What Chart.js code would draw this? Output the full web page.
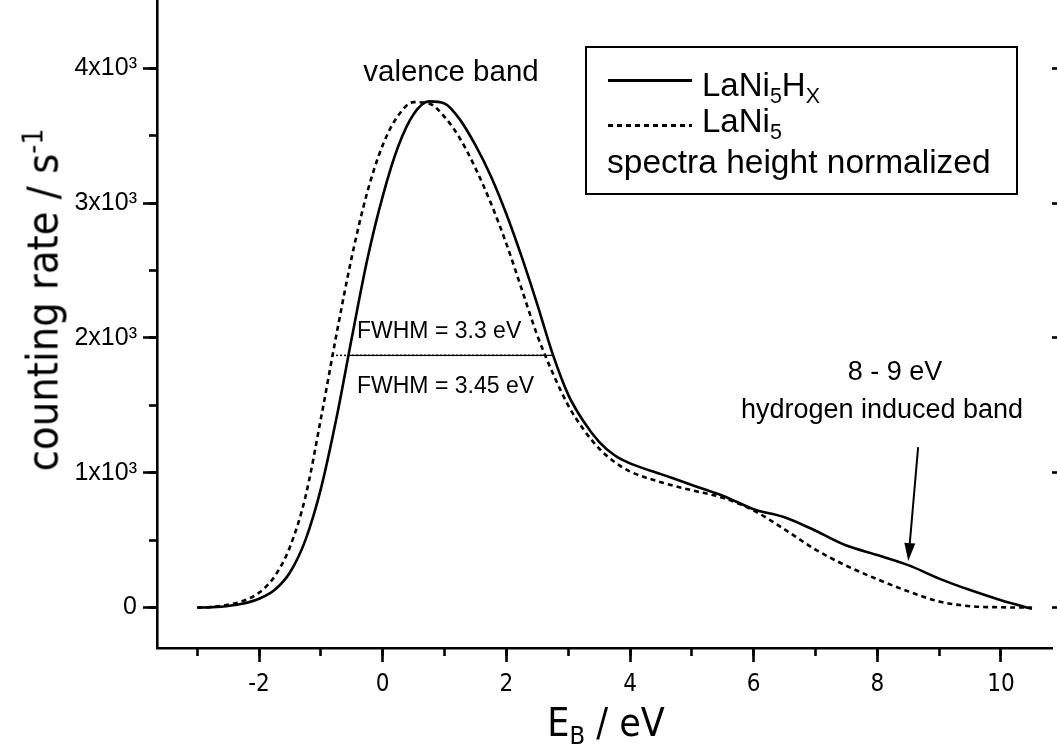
<!DOCTYPE html>
<html>
<head>
<meta charset="utf-8">
<script src="https://cdn.jsdelivr.net/npm/chart.js@4.4.1/dist/chart.umd.min.js"></script>
<style>
  html, body { margin: 0; padding: 0; background: #fff; overflow: hidden; }
  body { width: 1057px; height: 745px; position: relative; font-family: 'Liberation Sans', Arial, sans-serif; color: #000; }
  #wrap { position: absolute; left: 0; top: -20px; width: 1057px; height: 765px; }
  .t { position: absolute; white-space: nowrap; line-height: 1; }
  .n { font-family: 'Liberation Sans Narrow', 'Arial Narrow', 'DejaVu Sans Condensed', 'Liberation Sans', Arial, sans-serif; }
  .c { transform: translateX(-50%); }
  .sub { font-size: 0.65em; position: relative; top: 0.32em; vertical-align: baseline; }
  .sup { font-size: 0.65em; position: relative; top: -0.55em; vertical-align: baseline; }
  #legendBox { position: absolute; left: 585px; top: 46px; width: 433px; height: 149px; border: 2px solid #000; box-sizing: border-box; }
  .sample { position: absolute; left: 608px; width: 84px; height: 2.5px; }
</style>
</head>
<body>
<div id="wrap"><canvas id="chart"></canvas></div>

<div id="legendBox"></div>
<div class="sample" style="top:79px;background:#000;"></div>
<div class="sample" style="top:124px;background:repeating-linear-gradient(to right,#000 0 5px,transparent 5px 9px);"></div>
<div class="t" style="left:702px;top:68px;font-size:33px;">LaNi<span class="sub">5</span>H<span class="sub">X</span></div>
<div class="t" style="left:702px;top:104px;font-size:33px;">LaNi<span class="sub">5</span></div>
<div class="t" style="left:607px;top:145px;font-size:33.5px;">spectra height normalized</div>

<div class="t c" style="left:451px;top:56px;font-size:29.5px;">valence band</div>
<div class="t" style="left:357px;top:319px;font-size:23px;">FWHM = 3.3 eV</div>
<div class="t" style="left:357px;top:374px;font-size:23px;">FWHM = 3.45 eV</div>
<div class="t c" style="left:895px;top:358px;font-size:27px;">8 - 9 eV</div>
<div class="t c" style="left:882px;top:396px;font-size:27px;">hydrogen induced band</div>

<div class="t n" style="left:43px;top:300px;font-size:43px;transform:translate(-50%,-50%) rotate(-90deg);">counting rate / s<span class="sup">-1</span></div>
<div class="t c n" style="left:606px;top:703px;font-size:39px;">E<span class="sub">B</span> / eV</div>

<script>
// ---- data ----
const energy = [-3, -2.75, -2.5, -2.25, -2, -1.75, -1.5, -1.25, -1, -0.75, -0.5, -0.25, 0, 0.25, 0.5, 0.75, 1, 1.25, 1.5, 1.75, 2, 2.25, 2.5, 2.75, 3, 3.25, 3.5, 3.75, 4, 4.5, 5, 5.5, 6, 6.5, 7, 7.5, 8, 8.5, 9, 9.5, 10, 10.5];
const lani5hx = [0, 3, 12, 30, 65, 130, 260, 500, 880, 1400, 2000, 2580, 3050, 3420, 3660, 3755, 3740, 3620, 3430, 3200, 2920, 2600, 2250, 1880, 1580, 1380, 1230, 1130, 1070, 990, 910, 830, 730, 670, 570, 460, 390, 315, 215, 130, 55, -10];
const lani5 = [0, 5, 20, 50, 110, 230, 450, 820, 1400, 2020, 2600, 3080, 3430, 3650, 3750, 3740, 3640, 3480, 3260, 3000, 2700, 2360, 2020, 1740, 1500, 1320, 1180, 1080, 1010, 930, 870, 815, 720, 580, 430, 310, 210, 120, 45, 10, 2, 0];
const fwhmLevel = 1871;
const fwhmHxEnds = [-0.56, 2.75];
const fwhmLaNi5Ends = [-0.82, 2.63];
const arrowStart = [8.66, 1190];
const arrowTip = [8.5, 345];
const xMajorTicks = [-2, 0, 2, 4, 6, 8, 10];
const xMinorTicks = [-3, -2, -1, 0, 1, 2, 3, 4, 5, 6, 7, 8, 9, 10];
const yMajorTicks = [0, 1000, 2000, 3000, 4000];
const yMinorTicks = [0, 500, 1000, 1500, 2000, 2500, 3000, 3500, 4000];
const yTickLabels = ['0', '1x10³', '2x10³', '3x10³', '4x10³'];
const xRange = [-3.65, 10.825];
const yRange = [-300, 4500];

const toPts = (xs, ys) => xs.map((x, i) => ({ x: x, y: ys[i] }));
const setTicks = vals => s => { s.ticks = vals.map(v => ({ value: v })); };

const arrowPlugin = {
  id: 'arrow',
  afterDatasetsDraw(chart) {
    const xs = chart.scales.x, ys = chart.scales.y, ctx = chart.ctx;
    const x1 = xs.getPixelForValue(arrowStart[0]), y1 = ys.getPixelForValue(arrowStart[1]);
    const x2 = xs.getPixelForValue(arrowTip[0]), y2 = ys.getPixelForValue(arrowTip[1]);
    const ang = Math.atan2(y2 - y1, x2 - x1);
    const hl = 18, hw = 5.5;
    const bx = x2 - hl * Math.cos(ang), by = y2 - hl * Math.sin(ang);
    ctx.save();
    ctx.strokeStyle = '#000'; ctx.fillStyle = '#000'; ctx.lineWidth = 2;
    ctx.beginPath(); ctx.moveTo(x1, y1); ctx.lineTo(bx, by); ctx.stroke();
    ctx.beginPath();
    ctx.moveTo(x2, y2);
    ctx.lineTo(bx + hw * Math.sin(ang), by - hw * Math.cos(ang));
    ctx.lineTo(bx - hw * Math.sin(ang), by + hw * Math.cos(ang));
    ctx.closePath(); ctx.fill();
    ctx.restore();
  }
};

const yFont = { family: "'Liberation Sans', Arial, sans-serif", size: 25 };
const xFont = { family: "'Liberation Sans Narrow', 'Arial Narrow', 'DejaVu Sans Condensed', 'Liberation Sans', Arial, sans-serif", size: 24 };

new Chart(document.getElementById('chart'), {
  type: 'line',
  data: {
    datasets: [
      { label: 'LaNi5Hx', data: toPts(energy, lani5hx), borderColor: '#000', borderWidth: 2.6, pointRadius: 0, cubicInterpolationMode: 'monotone', fill: false },
      { label: 'LaNi5', data: toPts(energy, lani5), borderColor: '#000', borderWidth: 2.6, borderDash: [5, 4], pointRadius: 0, cubicInterpolationMode: 'monotone', fill: false },
      { label: 'FWHM LaNi5Hx', data: toPts(fwhmHxEnds, [fwhmLevel, fwhmLevel]), borderColor: '#000', borderWidth: 1.2, pointRadius: 0, fill: false },
      { label: 'FWHM LaNi5', data: toPts(fwhmLaNi5Ends, [fwhmLevel, fwhmLevel]), borderColor: '#000', borderWidth: 1.5, borderDash: [2, 2], pointRadius: 0, fill: false }
    ]
  },
  options: {
    responsive: true,
    maintainAspectRatio: false,
    animation: false,
    layout: { padding: { top: 13, right: 5, left: 0, bottom: 0 } },
    plugins: { legend: { display: false }, tooltip: { enabled: false } },
    scales: {
      x: {
        type: 'linear', position: 'bottom', weight: 1, min: xRange[0], max: xRange[1],
        border: { display: true, color: '#000', width: 2.6 },
        grid: { drawOnChartArea: false, drawTicks: true, tickLength: 14, tickWidth: 2.6, tickColor: '#000' },
        ticks: { autoSkip: false, maxRotation: 0, color: '#000', font: xFont, padding: 8 },
        afterBuildTicks: setTicks(xMajorTicks),
        afterFit: s => { s.height = 97; }
      },
      x2: {
        type: 'linear', position: 'bottom', weight: 0, min: xRange[0], max: xRange[1],
        border: { display: false },
        grid: { drawOnChartArea: false, drawTicks: true, tickLength: 8, tickWidth: 2.6, tickColor: '#000' },
        ticks: { autoSkip: false, display: false },
        afterBuildTicks: setTicks(xMinorTicks),
        afterFit: s => { s.height = 0; }
      },
      y: {
        type: 'linear', position: 'left', weight: 1, min: yRange[0], max: yRange[1],
        border: { display: true, color: '#000', width: 2.6 },
        grid: { drawOnChartArea: false, drawTicks: true, tickLength: 14, tickWidth: 2.6, tickColor: '#000' },
        ticks: { autoSkip: false, color: '#000', font: yFont, padding: 6,
                 callback: (v, i) => yTickLabels[i] },
        afterBuildTicks: setTicks(yMajorTicks),
        afterFit: s => { s.width = 157; }
      },
      y2: {
        type: 'linear', position: 'left', weight: 0, min: yRange[0], max: yRange[1],
        border: { display: false },
        grid: { drawOnChartArea: false, drawTicks: true, tickLength: 8, tickWidth: 2.6, tickColor: '#000' },
        ticks: { autoSkip: false, display: false },
        afterBuildTicks: setTicks(yMinorTicks),
        afterFit: s => { s.width = 0; }
      },
      yr: {
        type: 'linear', position: 'right', min: yRange[0], max: yRange[1],
        border: { display: false },
        grid: { drawOnChartArea: false, drawTicks: true, tickLength: 14, tickWidth: 2.6, tickColor: '#000' },
        ticks: { autoSkip: false, display: false },
        afterBuildTicks: setTicks(yMajorTicks),
        afterFit: s => { s.width = 0; }
      }
    }
  },
  plugins: [arrowPlugin]
});
</script>
</body>
</html>
